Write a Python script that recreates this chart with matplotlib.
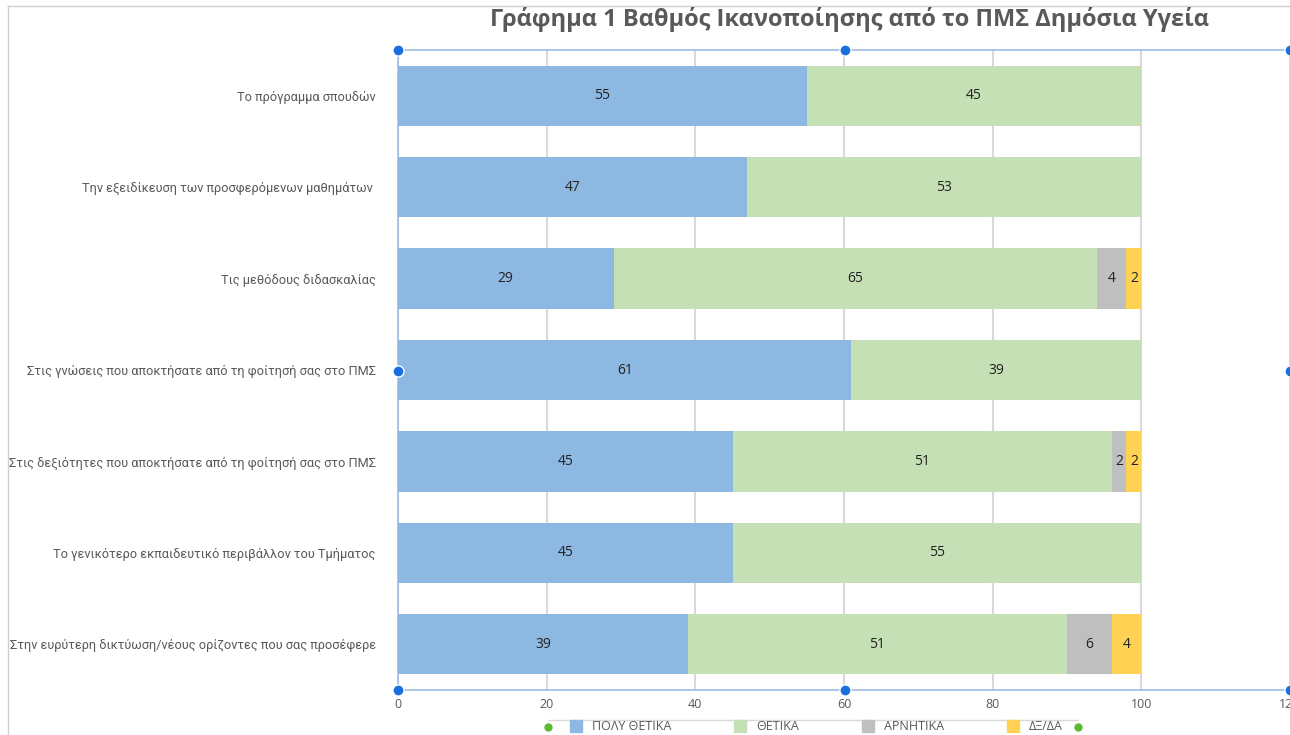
import matplotlib.pyplot as plt
import numpy as np
from matplotlib.lines import Line2D

plt.rcParams['font.family'] = ['Open Sans', 'DejaVu Sans']

title = "Γράφημα 1 Βαθμός Ικανοποίησης από το ΠΜΣ Δημόσια Υγεία"
categories = [
    "Το πρόγραμμα σπουδών",
    "Την εξειδίκευση των προσφερόμενων μαθημάτων ",
    "Τις μεθόδους διδασκαλίας",
    "Στις γνώσεις που αποκτήσατε από τη φοίτησή σας στο ΠΜΣ",
    "Στις δεξιότητες που αποκτήσατε από τη φοίτησή σας στο ΠΜΣ",
    "Το γενικότερο εκπαιδευτικό περιβάλλον του Τμήματος",
    "Στην ευρύτερη δικτύωση/νέους ορίζοντες που σας προσέφερε",
]
series_names = ["ΠΟΛΥ ΘΕΤΙΚΑ", "ΘΕΤΙΚΑ", "ΑΡΝΗΤΙΚΑ", "ΔΞ/ΔΑ"]
poly_thetika = [55, 47, 29, 61, 45, 45, 39]
thetika = [45, 53, 65, 39, 51, 55, 51]
arnitika = [0, 0, 4, 0, 2, 0, 6]
dx_da = [0, 0, 2, 0, 2, 0, 4]
colors = ["#8DB8E2", "#C5E0B4", "#BFBFBF", "#FFD254"]
x_ticks = [0, 20, 40, 60, 80, 100, 120]

label_font = ['Roboto', 'DejaVu Sans']

W, H = 1290, 735
fig = plt.figure(figsize=(W / 100, H / 100), dpi=100)
ax = fig.add_axes([398 / W, (H - 690) / H, (W - 398) / W, 640 / H])

y = np.arange(len(categories))
left = np.zeros(len(categories))
for name, vals, col in zip(series_names, [poly_thetika, thetika, arnitika, dx_da], colors):
    vals = np.array(vals, dtype=float)
    ax.barh(y, vals, left=left, height=0.66, color=col, label=name, zorder=3)
    for yi, l, v in zip(y, left, vals):
        if v > 0:
            ax.text(l + v / 2, yi, f"{int(v)}", ha='center', va='center',
                    fontsize=10, color='#222222', zorder=4)
    left += vals

ax.set_xlim(0, 120)
ax.set_ylim(len(categories) - 0.5, -0.5)
ax.set_xticks(x_ticks)
ax.set_xticklabels([str(t) for t in x_ticks], fontsize=9, color='#595959')
ax.set_yticks(y)
ax.set_yticklabels(categories, fontsize=10, color='#595959', family=label_font)
ax.tick_params(axis='both', length=0)
ax.tick_params(axis='y', pad=16)
ax.tick_params(axis='x', pad=6)
ax.grid(axis='x', color='#D9D9D9', linewidth=1.5, zorder=0)
for s in ['top', 'right', 'bottom']:
    ax.spines[s].set_visible(False)
ax.spines['left'].set_color('#9DBCE8')
ax.spines['left'].set_linewidth(1.2)

# shrink the category labels so the longest one fits like in the original
fig.canvas.draw()
r = fig.canvas.get_renderer()
widest = max(t.get_window_extent(r).width for t in ax.get_yticklabels())
size = min(10, 10 * 366 / widest)
for t in ax.get_yticklabels():
    t.set_fontsize(size)

fig.text(850 / W, 1 - 20 / H, title, ha='center', va='center', fontsize=17,
         fontweight='bold', color='#595959')

# legend
handles = [Line2D([0], [0], marker='s', linestyle='', markersize=9,
                  markerfacecolor=c, markeredgecolor=c) for c in colors]
fig.legend(handles, series_names, loc='center', bbox_to_anchor=(813 / W, 1 - 727 / H),
           ncol=4, frameon=False, fontsize=9, labelcolor='#595959',
           handletextpad=0.3, columnspacing=4.5)
fig.add_artist(Line2D([548 / W, 1078 / W], [1 - 720 / H] * 2, color='#D9D9D9', lw=1))
for px in (548, 1078):
    fig.add_artist(Line2D([px / W], [1 - 727 / H], marker='o', markersize=7,
                          color='#5DB832', markeredgecolor='white'))

# selection frame
for py in (50, 690):
    fig.add_artist(Line2D([398 / W, 1 - 0.5 / W], [1 - py / H] * 2, color='#9DBCE8', lw=1.2))
for px, py in [(398, 50), (845, 50), (1290, 50), (398, 371), (1290, 371),
               (398, 690), (845, 690), (1290, 690)]:
    fig.add_artist(Line2D([px / W], [1 - py / H], marker='o', markersize=8,
                          color='#1A6FE0', markeredgecolor='white', markeredgewidth=1))

# outer sheet border
fig.add_artist(Line2D([8 / W, 8 / W], [1 - 6 / H, 0], color='#D0D0D0', lw=1))
fig.add_artist(Line2D([8 / W, 1], [1 - 6 / H, 1 - 6 / H], color='#D0D0D0', lw=1))

fig.savefig('out.png', dpi=100)
